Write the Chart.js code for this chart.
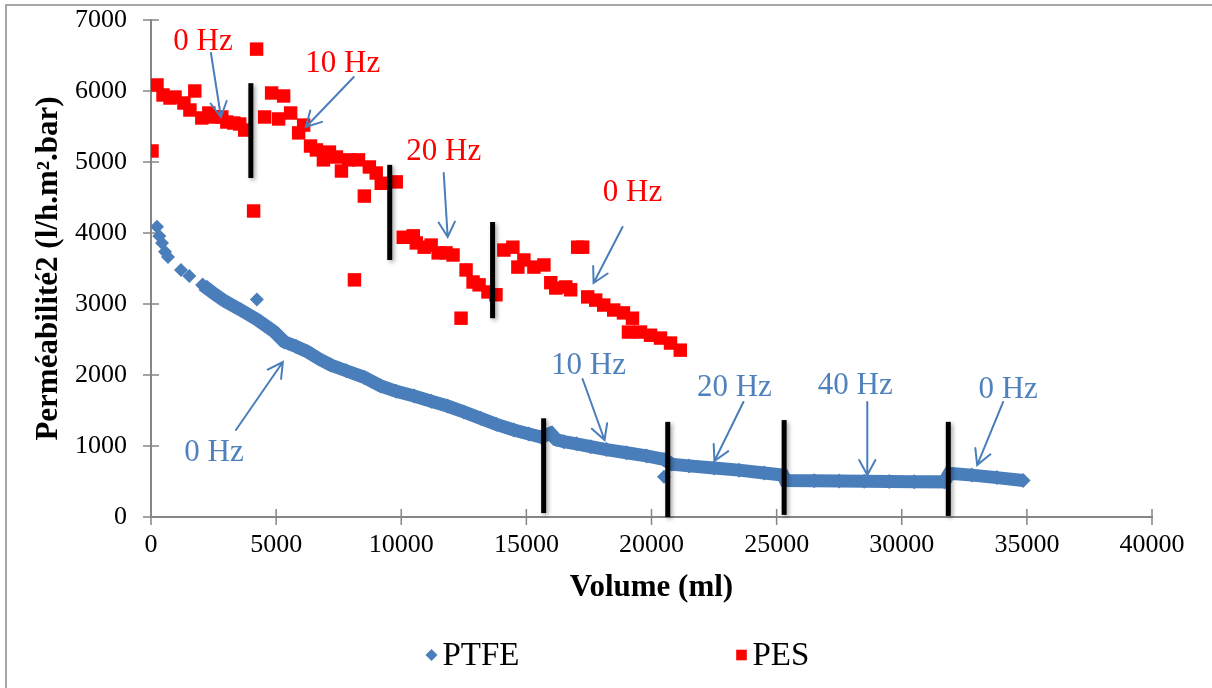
<!DOCTYPE html>
<html>
<head>
<meta charset="utf-8">
<script src="https://cdn.jsdelivr.net/npm/chart.js@4.4.1/dist/chart.umd.min.js"></script>
<style>
    html, body { margin: 0; padding: 0; background: #fff; }
    #wrap { position: relative; width: 1212px; height: 688px; overflow: hidden; }
    #frame { position: absolute; left: 5px; top: 4px; width: 1220px; height: 700px;
             border-top: 2px solid #a6a6a6; border-left: 2px solid #a6a6a6; }
    canvas { position: absolute; left: 0; top: 0; }
</style>
</head>
<body>
<div id="wrap">
    <div id="frame"></div>
    <canvas id="perm-chart" width="1212" height="688"></canvas>
</div>
<script>
// PTFE - continuous part of the curve (Volume ml / Perméabilité)
const ptfeVolume = [2064, 2500, 2926, 3593, 4259, 4922, 5321, 5800, 6255, 6700, 7186, 7800, 8515, 9182, 9800,
    10511, 11200, 11844, 12500, 13174, 13800, 14503, 15100, 15600, 15968, 16200, 16499, 17000, 17565, 18200,
    19000, 19800, 20500, 20800, 21500, 22500, 23500, 24500, 25250, 25350, 26500, 27500, 28500, 29500, 30500,
    31700, 31900, 32800, 33800, 34850];
const ptfePerm = [3268, 3150, 3046, 2915, 2775, 2610, 2469, 2400, 2328, 2230, 2141, 2060, 1968, 1845, 1770,
    1704, 1630, 1563, 1480, 1390, 1305, 1225, 1170, 1125, 1179, 1090, 1061, 1030, 990, 950,
    905, 860, 810, 745, 720, 690, 660, 620, 590, 515, 510, 508, 505, 500, 498,
    495, 615, 590, 555, 515];

// PTFE - isolated points (start of run + outliers)
const ptfeLooseVolume = [240, 331, 440, 560, 680, 1198, 1530, 4230, 20500];
const ptfeLoosePerm = [4089, 3958, 3859, 3737, 3662, 3479, 3394, 3065, 568];

// PES
const pesVolume = [40, 240, 480, 760, 960, 1315, 1555, 1750, 2030, 2310, 2510, 2830, 3030, 3310, 3545,
    3745, 4100, 4220, 4540, 4820, 5100, 5300, 5580, 5900, 6100, 6375, 6610, 6890, 7130, 7410,
    7610, 7890, 8130, 8290, 8525, 8725, 9000, 9200, 9800, 10080, 10480, 10600, 10915, 11195, 11475,
    11790, 12070, 12390, 12590, 12870, 13110, 13465, 13785, 14100, 14460, 14660, 14900, 15300, 15700, 15975,
    16175, 16575, 16770, 17050, 17250, 17450, 17770, 18090, 18490, 18880, 19240, 19080, 19560, 19960, 20360,
    20760, 21150];
const pesPerm = [5155, 6085, 5944, 5901, 5915, 5831, 5732, 6000, 5620, 5690, 5634, 5634, 5563, 5549, 5535,
    5450, 4310, 6590, 5634, 5972, 5606, 5930, 5690, 5410, 5520, 5225, 5170, 5030, 5140, 5070,
    4873, 5030, 3340, 5030, 4520, 4930, 4845, 4700, 4720, 3940, 3960, 3860, 3800, 3830, 3720,
    3720, 3690, 2800, 3480, 3310, 3270, 3170, 3130, 3760, 3800, 3520, 3620, 3520, 3550, 3300,
    3225, 3240, 3200, 3800, 3800, 3100, 3055, 2985, 2915, 2875, 2800, 2605, 2605, 2560, 2520,
    2450, 2350];

// Frequency change markers (black bars)
const cutVolume = [3990, 9540, 13650, 15690, 20650, 25300, 31860];
const cutTop = [6110, 4960, 4155, 1390, 1340, 1365, 1340];
const cutBottom = [4775, 3620, 2800, 55, 0, 30, 15];

// Frequency labels with arrows
const labelText = ['0 Hz', '10 Hz', '20 Hz', '0 Hz', '0 Hz', '10 Hz', '20 Hz', '40 Hz', '0 Hz'];
const labelSeries = ['PES', 'PES', 'PES', 'PES', 'PTFE', 'PTFE', 'PTFE', 'PTFE', 'PTFE'];
const labelX = [2076, 7665, 11697, 19242, 2515, 17485, 23313, 28144, 34251];
const labelY = [6690, 6380, 5141, 4563, 901, 2127, 1817, 1845, 1789];
const arrowFromX = [2395, 8104, 11697, 18842, 3393, 17246, 23673, 28623, 34052];
const arrowFromY = [6535, 6197, 4845, 4085, 1225, 1944, 1620, 1620, 1620];
const arrowToX = [2794, 6188, 11856, 17685, 5269, 18124, 22515, 28623, 33014];
const arrowToY = [5634, 5493, 3944, 3296, 2183, 1085, 789, 592, 732];

const SERIF = "'Liberation Serif', 'Times New Roman', serif";
const BLUE = '#4a7ebb';
const BLUE_TEXT = '#4f81bd';
const RED = '#ff0000';
const AXIS = '#868686';

const toXY = (xs, ys) => xs.map((v, i) => ({ x: v, y: ys[i] }));

// tick marks crossing the axis lines
const crossTicks = {
    id: 'crossTicks',
    beforeDatasetsDraw(chart) {
        const { ctx, scales: { x, y } } = chart;
        ctx.save();
        ctx.strokeStyle = AXIS;
        ctx.lineWidth = 1.5;
        ctx.beginPath();
        x.ticks.forEach(t => {
            const px = x.getPixelForValue(t.value);
            ctx.moveTo(px, y.bottom - 8);
            ctx.lineTo(px, y.bottom + 8);
        });
        y.ticks.forEach(t => {
            const py = y.getPixelForValue(t.value);
            ctx.moveTo(x.left - 8, py);
            ctx.lineTo(x.left + 8, py);
        });
        ctx.stroke();
        ctx.restore();
    }
};

// black bars, arrows, Hz labels, legend
const annotations = {
    id: 'annotations',
    afterDatasetsDraw(chart) {
        const { ctx, scales: { x, y } } = chart;

        ctx.save();
        ctx.strokeStyle = '#000';
        ctx.lineWidth = 5;
        ctx.shadowColor = 'rgba(0,0,0,0.35)';
        ctx.shadowBlur = 4;
        ctx.shadowOffsetX = 2;
        ctx.shadowOffsetY = 2;
        cutVolume.forEach((v, i) => {
            const px = x.getPixelForValue(v);
            ctx.beginPath();
            ctx.moveTo(px, y.getPixelForValue(cutTop[i]));
            ctx.lineTo(px, y.getPixelForValue(cutBottom[i]));
            ctx.stroke();
        });
        ctx.restore();

        ctx.save();
        ctx.strokeStyle = BLUE;
        ctx.lineWidth = 2;
        ctx.lineCap = 'round';
        arrowFromX.forEach((v, i) => {
            const x0 = x.getPixelForValue(v), y0 = y.getPixelForValue(arrowFromY[i]);
            const x1 = x.getPixelForValue(arrowToX[i]), y1 = y.getPixelForValue(arrowToY[i]);
            const a = Math.atan2(y1 - y0, x1 - x0);
            const head = 17;
            ctx.beginPath();
            ctx.moveTo(x0, y0);
            ctx.lineTo(x1, y1);
            ctx.moveTo(x1 - head * Math.cos(a - 0.5), y1 - head * Math.sin(a - 0.5));
            ctx.lineTo(x1, y1);
            ctx.lineTo(x1 - head * Math.cos(a + 0.5), y1 - head * Math.sin(a + 0.5));
            ctx.stroke();
        });

        ctx.font = '31px ' + SERIF;
        ctx.textAlign = 'center';
        ctx.textBaseline = 'middle';
        labelText.forEach((t, i) => {
            ctx.fillStyle = labelSeries[i] === 'PES' ? RED : BLUE_TEXT;
            ctx.fillText(t, x.getPixelForValue(labelX[i]), y.getPixelForValue(labelY[i]));
        });
        ctx.restore();
    },
    afterDraw(chart) {
        const { ctx, chartArea } = chart;
        const cx = (chartArea.left + chartArea.right) / 2;
        const ly = chart.height - 33;
        const items = [
            { text: 'PTFE', color: BLUE, style: 'rectRot', radius: 6, mx: cx - 220 },
            { text: 'PES', color: RED, style: 'rect', radius: 7.5, mx: cx + 90 }
        ];
        items.forEach(it => {
            ctx.save();
            ctx.fillStyle = it.color;
            Chart.helpers.drawPoint(ctx, { pointStyle: it.style, radius: it.radius, borderWidth: 0 }, it.mx, ly);
            ctx.restore();
            ctx.save();
            ctx.font = '33px ' + SERIF;
            ctx.textBaseline = 'middle';
            ctx.textAlign = 'left';
            ctx.fillStyle = '#000';
            ctx.fillText(it.text, it.mx + 11, ly + 1);
            ctx.restore();
        });
    }
};

const ctx = document.getElementById('perm-chart').getContext('2d');
new Chart(ctx, {
    type: 'scatter',
    data: {
        datasets: [
            {
                label: 'PES',
                data: toXY(pesVolume, pesPerm),
                pointStyle: 'rect',
                pointRadius: 9.5,
                backgroundColor: RED,
                borderWidth: 0
            },
            {
                label: 'PTFE',
                data: toXY(ptfeVolume, ptfePerm),
                showLine: true,
                borderColor: BLUE,
                borderWidth: 13,
                pointStyle: 'rectRot',
                pointRadius: 7.5,
                backgroundColor: BLUE,
                pointBorderWidth: 0
            },
            {
                label: 'PTFE (isolated)',
                data: toXY(ptfeLooseVolume, ptfeLoosePerm),
                pointStyle: 'rectRot',
                pointRadius: 7,
                backgroundColor: BLUE,
                borderWidth: 0
            }
        ]
    },
    plugins: [crossTicks, annotations],
    options: {
        responsive: false,
        animation: false,
        layout: { padding: { top: 20, right: 60, bottom: 0, left: 0 } },
        plugins: {
            legend: { display: false },
            tooltip: { enabled: false }
        },
        scales: {
            x: {
                type: 'linear',
                min: 0,
                max: 40000,
                afterFit: s => { s.height = 171; },
                grid: { display: false, drawTicks: false },
                border: { display: true, color: AXIS, width: 2 },
                ticks: { stepSize: 5000, color: '#000', padding: 13, maxRotation: 0,
                         callback: v => String(v),
                         font: { family: SERIF, size: 26 } },
                title: { display: true, text: 'Volume (ml)', color: '#000',
                         font: { family: SERIF, size: 31, weight: 'bold' },
                         padding: { top: 0, bottom: 81 } }
            },
            y: {
                min: 0,
                max: 7000,
                afterFit: s => { s.width = 151; s.paddingTop = 0; s.paddingBottom = 0; },
                grid: { display: false, drawTicks: false },
                border: { display: true, color: AXIS, width: 2 },
                ticks: { stepSize: 1000, color: '#000', padding: 24,
                         callback: v => String(v),
                         font: { family: SERIF, size: 26 } },
                title: { display: true, text: 'Perméabilité2 (l/h.m².bar)', color: '#000',
                         font: { family: SERIF, size: 31, weight: 'bold' },
                         padding: { top: 30, bottom: 0 } }
            }
        }
    }
});
</script>
</body>
</html>
